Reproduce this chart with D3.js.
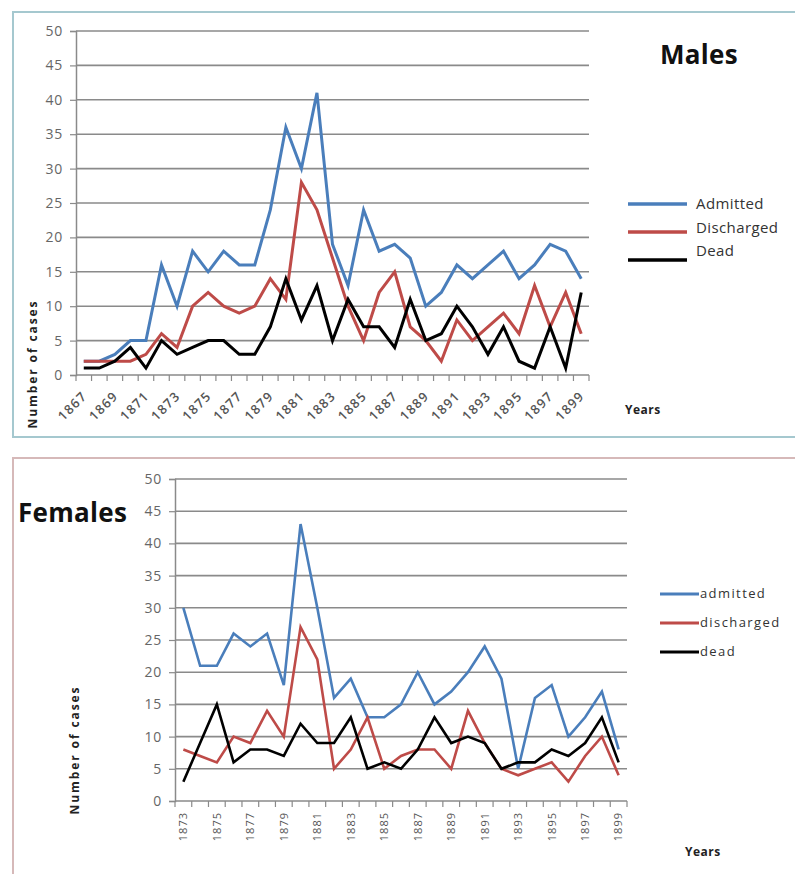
<!DOCTYPE html>
<html>
<head>
<meta charset="utf-8">
<script src="https://cdn.jsdelivr.net/npm/d3@7/dist/d3.min.js"></script>
<style>
  html, body { margin: 0; padding: 0; background: #fff; }
  svg { display: block; font-family: "Open Sans", "DejaVu Sans", sans-serif; }
</style>
</head>
<body>
<svg id="chart" width="795" height="874"></svg>
<script>
// ---- Males, 1867–1899 ----
const maleYears = [1867, 1868, 1869, 1870, 1871, 1872, 1873, 1874, 1875, 1876, 1877,
  1878, 1879, 1880, 1881, 1882, 1883, 1884, 1885, 1886, 1887, 1888, 1889, 1890,
  1891, 1892, 1893, 1894, 1895, 1896, 1897, 1898, 1899];
const maleAdmitted = [2, 2, 3, 5, 5, 16, 10, 18, 15, 18, 16, 16, 24, 36, 30, 41, 19,
  13, 24, 18, 19, 17, 10, 12, 16, 14, 16, 18, 14, 16, 19, 18, 14];
const maleDischarged = [2, 2, 2, 2, 3, 6, 4, 10, 12, 10, 9, 10, 14, 11, 28, 24, 17,
  10, 5, 12, 15, 7, 5, 2, 8, 5, 7, 9, 6, 13, 7, 12, 6];
const maleDead = [1, 1, 2, 4, 1, 5, 3, 4, 5, 5, 3, 3, 7, 14, 8, 13, 5, 11, 7, 7, 4,
  11, 5, 6, 10, 7, 3, 7, 2, 1, 7, 1, 12];
const maleTickYears = [1867, 1869, 1871, 1873, 1875, 1877, 1879, 1881, 1883, 1885,
  1887, 1889, 1891, 1893, 1895, 1897, 1899];
const maleSeriesNames = ["Admitted", "Discharged", "Dead"];

// ---- Females, 1873–1899 ----
const femaleYears = [1873, 1874, 1875, 1876, 1877, 1878, 1879, 1880, 1881, 1882,
  1883, 1884, 1885, 1886, 1887, 1888, 1889, 1890, 1891, 1892, 1893, 1894, 1895,
  1896, 1897, 1898, 1899];
const femaleAdmitted = [30, 21, 21, 26, 24, 26, 18, 43, 30, 16, 19, 13, 13, 15, 20,
  15, 17, 20, 24, 19, 5, 16, 18, 10, 13, 17, 8];
const femaleDischarged = [8, 7, 6, 10, 9, 14, 10, 27, 22, 5, 8, 13, 5, 7, 8, 8, 5,
  14, 9, 5, 4, 5, 6, 3, 7, 10, 4];
const femaleDead = [3, 9, 15, 6, 8, 8, 7, 12, 9, 9, 13, 5, 6, 5, 8, 13, 9, 10, 9, 5,
  6, 6, 8, 7, 9, 13, 6];
const femaleTickYears = [1873, 1875, 1877, 1879, 1881, 1883, 1885, 1887, 1889, 1891,
  1893, 1895, 1897, 1899];
const femaleSeriesNames = ["admitted", "discharged", "dead"];

const yTicks = [0, 5, 10, 15, 20, 25, 30, 35, 40, 45, 50];
const seriesColors = ["#4a7ebb", "#be4b48", "#000000"];

const svg = d3.select("#chart");
svg.append("rect").attr("width", 795).attr("height", 874).attr("fill", "#fff");

function drawPanel(cfg) {
  const g = svg.append("g");

  // outer frame
  g.append("rect")
    .attr("x", cfg.frame[0]).attr("y", cfg.frame[1])
    .attr("width", cfg.frame[2]).attr("height", cfg.frame[3])
    .attr("fill", "none").attr("stroke", cfg.frameColor).attr("stroke-width", 2);

  const x = d3.scaleBand().domain(cfg.years).range([cfg.left, cfg.right]).padding(0);
  const y = d3.scaleLinear().domain([0, 50]).range([cfg.bottom, cfg.top]);
  const cx = d => x(d) + x.bandwidth() / 2;

  // horizontal gridlines
  g.append("g").selectAll("line").data(yTicks.slice(1)).join("line")
    .attr("x1", cfg.left).attr("x2", cfg.right)
    .attr("y1", d => y(d)).attr("y2", d => y(d))
    .attr("stroke", "#8a8a8a").attr("stroke-width", 1.6);

  // y axis
  const yAxis = g.append("g")
    .attr("transform", `translate(${cfg.left},0)`)
    .call(d3.axisLeft(y).tickValues(yTicks).tickSize(6).tickPadding(cfg.yPad));
  yAxis.select(".domain").attr("stroke", "#8a8a8a").attr("stroke-width", 1.5);
  yAxis.selectAll(".tick line").attr("stroke", "#8a8a8a").attr("stroke-width", 1.2);
  yAxis.selectAll(".tick text")
    .attr("fill", "#666").style("font-size", cfg.yFont + "px")
    .style("letter-spacing", "0.8px")
    .style("font-family", "'Open Sans', sans-serif");

  // x axis baseline with ticks at category boundaries
  g.append("line")
    .attr("x1", cfg.left).attr("x2", cfg.right)
    .attr("y1", cfg.bottom).attr("y2", cfg.bottom)
    .attr("stroke", "#8a8a8a").attr("stroke-width", 1.6);
  const bounds = cfg.years.map(d => x(d)).concat([cfg.right]);
  g.append("g").selectAll("line").data(bounds).join("line")
    .attr("x1", d => d).attr("x2", d => d)
    .attr("y1", cfg.bottom).attr("y2", cfg.bottom + 6)
    .attr("stroke", "#8a8a8a").attr("stroke-width", 1.2);

  // x labels
  const xl = g.append("g").selectAll("text").data(cfg.tickYears).join("text")
    .text(d => d)
    .attr("fill", "#555").style("font-size", cfg.xFont + "px")
    .style("font-weight", cfg.xWeight)
    .style("letter-spacing", cfg.xSpacing + "px")
    .attr("text-anchor", "end");
  if (cfg.rotate === -45) {
    xl.attr("transform", d => `translate(${cx(d) + 4},${cfg.bottom + 22}) rotate(-45)`);
  } else {
    xl.attr("dy", "0.35em")
      .attr("transform", d => `translate(${cx(d)},${cfg.bottom + 11}) rotate(-90)`);
  }

  // series lines
  const line = d3.line().x((d, i) => cx(cfg.years[i])).y(d => y(d));
  cfg.series.forEach((vals, k) => {
    g.append("path").datum(vals)
      .attr("d", line)
      .attr("fill", "none")
      .attr("stroke", seriesColors[k])
      .attr("stroke-width", cfg.lineWidth)
      .attr("stroke-linejoin", "miter");
  });

  // title
  g.append("text").text(cfg.title)
    .attr("x", cfg.titlePos[0]).attr("y", cfg.titlePos[1])
    .style("font-size", "26px").style("font-weight", 700)
    .style("letter-spacing", "0.3px").attr("fill", "#111");

  // y axis title
  g.append("text").text("Number of cases")
    .attr("transform", `translate(${cfg.yTitlePos[0]},${cfg.yTitlePos[1]}) rotate(-90)`)
    .attr("text-anchor", "middle")
    .style("font-size", "12px").style("font-weight", 700)
    .style("letter-spacing", "1.9px").attr("fill", "#222");

  // x axis title
  g.append("text").text("Years")
    .attr("x", cfg.xTitlePos[0]).attr("y", cfg.xTitlePos[1])
    .style("font-size", "12px").style("font-weight", 700)
    .style("letter-spacing", "0.5px").attr("fill", "#222");

  // legend
  cfg.names.forEach((name, k) => {
    const ly = cfg.legend.ys[k];
    g.append("line")
      .attr("x1", cfg.legend.x1).attr("x2", cfg.legend.x2)
      .attr("y1", ly).attr("y2", ly)
      .attr("stroke", seriesColors[k]).attr("stroke-width", cfg.lineWidth + 0.5);
    g.append("text").text(name)
      .attr("x", cfg.legend.tx).attr("y", cfg.legend.tys[k])
      .style("font-size", cfg.legend.font + "px")
      .style("letter-spacing", cfg.legend.spacing + "px")
      .attr("fill", "#333");
  });
}

drawPanel({
  frame: [13, 12, 790, 425], frameColor: "#a5c8cf",
  years: maleYears, tickYears: maleTickYears,
  series: [maleAdmitted, maleDischarged, maleDead], names: maleSeriesNames,
  left: 76, right: 589, top: 31, bottom: 375,
  yFont: 14, yPad: 7, xFont: 13, xWeight: 600, xSpacing: 1.2, rotate: -45, lineWidth: 3,
  title: "Males", titlePos: [660, 64],
  yTitlePos: [37, 364], xTitlePos: [625, 414],
  legend: { x1: 628, x2: 687, ys: [204, 232, 260], tx: 696, tys: [209, 233, 256], font: 15, spacing: 0.4 }
});

drawPanel({
  frame: [13, 458, 790, 430], frameColor: "#d6b9b9",
  years: femaleYears, tickYears: femaleTickYears,
  series: [femaleAdmitted, femaleDischarged, femaleDead], names: femaleSeriesNames,
  left: 175, right: 627, top: 479, bottom: 801,
  yFont: 14, yPad: 7, xFont: 11, xWeight: 400, xSpacing: 1, rotate: -90, lineWidth: 2.6,
  title: "Females", titlePos: [18, 522],
  yTitlePos: [79, 750], xTitlePos: [685, 856],
  legend: { x1: 660, x2: 699, ys: [594, 623, 652], tx: 700, tys: [598, 627, 656], font: 13, spacing: 1.4 }
});
</script>
</body>
</html>
